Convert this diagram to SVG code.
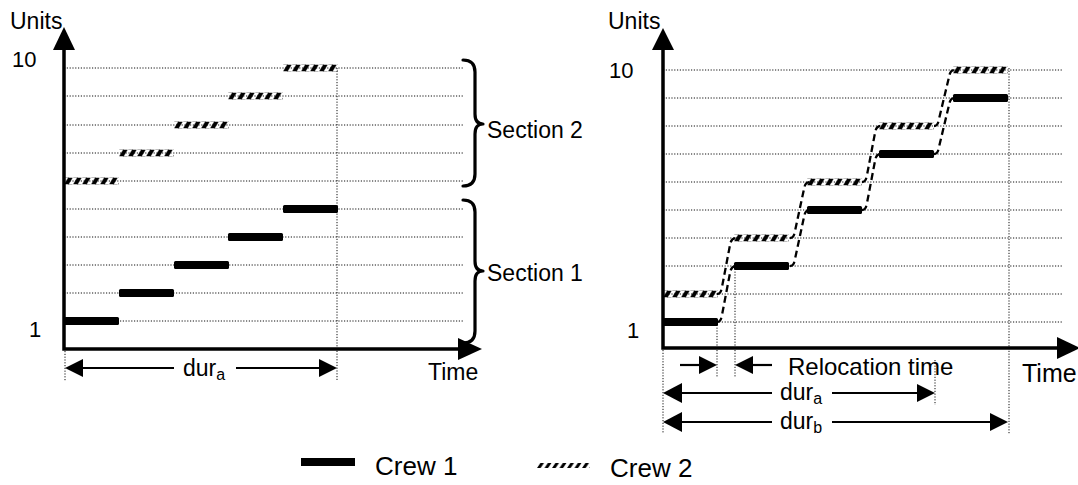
<svg xmlns="http://www.w3.org/2000/svg" xmlns:xlink="http://www.w3.org/1999/xlink" width="1078" height="485" viewBox="0 0 1078 485">
  <style>
    text { font-family: "Liberation Sans", Arial, sans-serif; fill: #000; }
    .lbl { font-size: 23px; }
    .num { font-size: 22px; }
    .dim { font-size: 23px; }
    .sub { font-size: 16px; }
    .leg { font-size: 26px; }
    .grid { stroke: #111; stroke-width: 1; stroke-dasharray: 1.2 1.6; fill: none; }
    .axis { stroke: #000; stroke-width: 3.5; fill: none; }
    .dimln { stroke: #000; stroke-width: 2.2; fill: none; }
    .brace { stroke: #000; stroke-width: 3.2; fill: none; stroke-linecap: round; stroke-linejoin: round; }
    .move { stroke: #000; stroke-width: 2.3; stroke-dasharray: 7 4; fill: none; }
    .crew1 { fill: #000; }
    .head { fill: #000; }
  </style>
  <defs>
    <!-- slanted strokes used for Crew 2 bars -->
    <pattern id="hatch" x="0" y="-3.5" width="9" height="7" patternUnits="userSpaceOnUse">
      <polygon points="0,7 4.6,7 8.8,0 4.2,0" fill="#000"/>
    </pattern>
    <pattern id="hatchSmall" x="0" y="-2.5" width="7.5" height="5" patternUnits="userSpaceOnUse">
      <polygon points="0,5 3.6,5 7,0 3.4,0" fill="#000"/>
    </pattern>
    <rect id="c2bar" x="0" y="-3.5" width="55" height="7" fill="url(#hatch)"/>
    <rect id="c1bar" x="0" y="-4" width="55" height="8" rx="1.5" class="crew1"/>
  </defs>

  <!-- ================= left chart ================= -->
  <g id="left-grid">
    <line class="grid" x1="64" y1="68" x2="463" y2="68"/>
    <line class="grid" x1="64" y1="96" x2="463" y2="96"/>
    <line class="grid" x1="64" y1="125" x2="463" y2="125"/>
    <line class="grid" x1="64" y1="153" x2="463" y2="153"/>
    <line class="grid" x1="64" y1="181" x2="463" y2="181"/>
    <line class="grid" x1="64" y1="209" x2="463" y2="209"/>
    <line class="grid" x1="64" y1="237" x2="463" y2="237"/>
    <line class="grid" x1="64" y1="265" x2="463" y2="265"/>
    <line class="grid" x1="64" y1="293" x2="463" y2="293"/>
    <line class="grid" x1="64" y1="321" x2="463" y2="321"/>
    <line class="grid" x1="337" y1="68" x2="337" y2="381"/>
    <line class="grid" x1="65" y1="351" x2="65" y2="381"/>
  </g>

  <g id="left-crew1">
    <use href="#c1bar" x="64" y="321"/>
    <use href="#c1bar" x="119" y="293"/>
    <use href="#c1bar" x="174" y="265"/>
    <use href="#c1bar" x="228" y="237"/>
    <use href="#c1bar" x="283" y="209"/>
  </g>
  <g id="left-crew2">
    <use href="#c2bar" x="64" y="181"/>
    <use href="#c2bar" x="119" y="153"/>
    <use href="#c2bar" x="174" y="125"/>
    <use href="#c2bar" x="228" y="96"/>
    <use href="#c2bar" x="283" y="68"/>
  </g>

  <g id="left-axes">
    <polyline class="axis" points="64,48 64,349 460,349"/>
    <polygon class="head" points="64,27 53,50 75,50"/>
    <polygon class="head" points="482,349 458,338 458,360"/>
    <text class="lbl" x="10" y="29">Units</text>
    <text class="num" x="12" y="67">10</text>
    <text class="num" x="29" y="337">1</text>
    <text class="lbl" x="428" y="380">Time</text>
  </g>

  <g id="section-2">
    <path class="brace" d="M463,60 Q475,60 475,72 L475,114 Q475,124 483,124 Q475,124 475,134 L475,174 Q475,186 463,186"/>
    <text class="lbl" x="487" y="138">Section 2</text>
  </g>
  <g id="section-1">
    <path class="brace" d="M463,200 Q475,200 475,212 L475,261 Q475,271 483,271 Q475,271 475,281 L475,331 Q475,343 463,343"/>
    <text class="lbl" x="487" y="281">Section 1</text>
  </g>

  <g id="left-dur-a">
    <line class="dimln" x1="82" y1="368" x2="174" y2="368"/>
    <line class="dimln" x1="236" y1="368" x2="320" y2="368"/>
    <polygon class="head" points="65,368 83,359 83,377"/>
    <polygon class="head" points="337,368 319,359 319,377"/>
    <text class="dim" x="183" y="376">dur<tspan class="sub" dy="4">a</tspan></text>
  </g>

  <!-- ================= right chart ================= -->
  <g id="right-grid">
    <line class="grid" x1="663" y1="70" x2="1062" y2="70"/>
    <line class="grid" x1="663" y1="98" x2="1062" y2="98"/>
    <line class="grid" x1="663" y1="126" x2="1062" y2="126"/>
    <line class="grid" x1="663" y1="154" x2="1062" y2="154"/>
    <line class="grid" x1="663" y1="182" x2="1062" y2="182"/>
    <line class="grid" x1="663" y1="210" x2="1062" y2="210"/>
    <line class="grid" x1="663" y1="238" x2="1062" y2="238"/>
    <line class="grid" x1="663" y1="266" x2="1062" y2="266"/>
    <line class="grid" x1="663" y1="294" x2="1062" y2="294"/>
    <line class="grid" x1="663" y1="322" x2="1062" y2="322"/>
    <line class="grid" x1="1009" y1="68" x2="1009" y2="434"/>
    <line class="grid" x1="663" y1="350" x2="663" y2="434"/>
    <line class="grid" x1="717" y1="322" x2="717" y2="378"/>
    <line class="grid" x1="735" y1="266" x2="735" y2="378"/>
    <line class="grid" x1="935" y1="360" x2="935" y2="405"/>
  </g>

  <g id="right-crew1">
    <use href="#c1bar" x="663" y="322"/>
    <use href="#c1bar" x="734" y="266"/>
    <use href="#c1bar" x="807" y="210"/>
    <use href="#c1bar" x="879" y="154"/>
    <use href="#c1bar" x="953" y="98"/>
  </g>
  <g id="right-crew2">
    <use href="#c2bar" x="663" y="294"/>
    <use href="#c2bar" x="734" y="238"/>
    <use href="#c2bar" x="807" y="182"/>
    <use href="#c2bar" x="879" y="126"/>
    <use href="#c2bar" x="953" y="70"/>
  </g>

  <!-- relocation moves between successive units -->
  <g id="connectors">
    <path class="move" d="M717,322 C721,322 721,319 722,315 L730,273 C731,268 732,266 737,266"/>
    <path class="move" d="M790,266 C794,266 794,263 795,259 L804,217 C805,212 806,210 810,210"/>
    <path class="move" d="M862,210 C866,210 866,207 867,203 L875,161 C876,156 877,154 881,154"/>
    <path class="move" d="M934,154 C938,154 938,151 939,147 L949,105 C950,100 951,98 955,98"/>
    <path class="move" d="M717,294 C721,294 721,291 722,287 L730,245 C731,240 732,238 737,238"/>
    <path class="move" d="M790,238 C794,238 794,235 795,231 L804,189 C805,184 806,182 810,182"/>
    <path class="move" d="M862,182 C866,182 866,179 867,175 L875,133 C876,128 877,126 881,126"/>
    <path class="move" d="M934,126 C938,126 938,123 939,119 L949,77 C950,72 951,70 955,70"/>
  </g>

  <g id="right-axes">
    <polyline class="axis" points="663,48 663,348 1060,348"/>
    <polygon class="head" points="663,28 652,50 674,50"/>
    <polygon class="head" points="1080,348 1057,337 1057,359"/>
    <text class="lbl" x="608" y="29">Units</text>
    <text class="num" x="609" y="78">10</text>
    <text class="num" x="627" y="338">1</text>
    <text class="lbl" x="1022" y="382" style="font-size:25px">Time</text>
  </g>

  <g id="relocation-time">
    <line class="dimln" x1="680" y1="365" x2="700" y2="365"/>
    <polygon class="head" points="717,365 699,356 699,374"/>
    <line class="dimln" x1="752" y1="365" x2="772" y2="365"/>
    <polygon class="head" points="735,365 753,356 753,374"/>
    <text class="lbl" x="788" y="375" style="font-size:24px">Relocation time</text>
  </g>

  <g id="right-dur-a">
    <line class="dimln" x1="681" y1="393" x2="772" y2="393"/>
    <line class="dimln" x1="832" y1="393" x2="919" y2="393"/>
    <polygon class="head" points="663,393 682,383 682,403"/>
    <polygon class="head" points="935,393 917,384 917,402"/>
    <text class="dim" x="780" y="400">dur<tspan class="sub" dy="4">a</tspan></text>
  </g>
  <g id="right-dur-b">
    <line class="dimln" x1="681" y1="422" x2="772" y2="422"/>
    <line class="dimln" x1="832" y1="422" x2="992" y2="422"/>
    <polygon class="head" points="663,422 682,412 682,432"/>
    <polygon class="head" points="1008,422 990,413 990,431"/>
    <text class="dim" x="780" y="429">dur<tspan class="sub" dy="4">b</tspan></text>
  </g>

  <!-- ================= legend ================= -->
  <g id="legend-crew1">
    <rect x="301" y="458" width="54" height="8" class="crew1"/>
    <text class="leg" x="375" y="475">Crew 1</text>
  </g>
  <g id="legend-crew2">
    <g transform="translate(537,465.5)">
      <rect x="0" y="-2.5" width="53" height="5" fill="url(#hatchSmall)"/>
    </g>
    <text class="leg" x="610" y="477">Crew 2</text>
  </g>
</svg>
